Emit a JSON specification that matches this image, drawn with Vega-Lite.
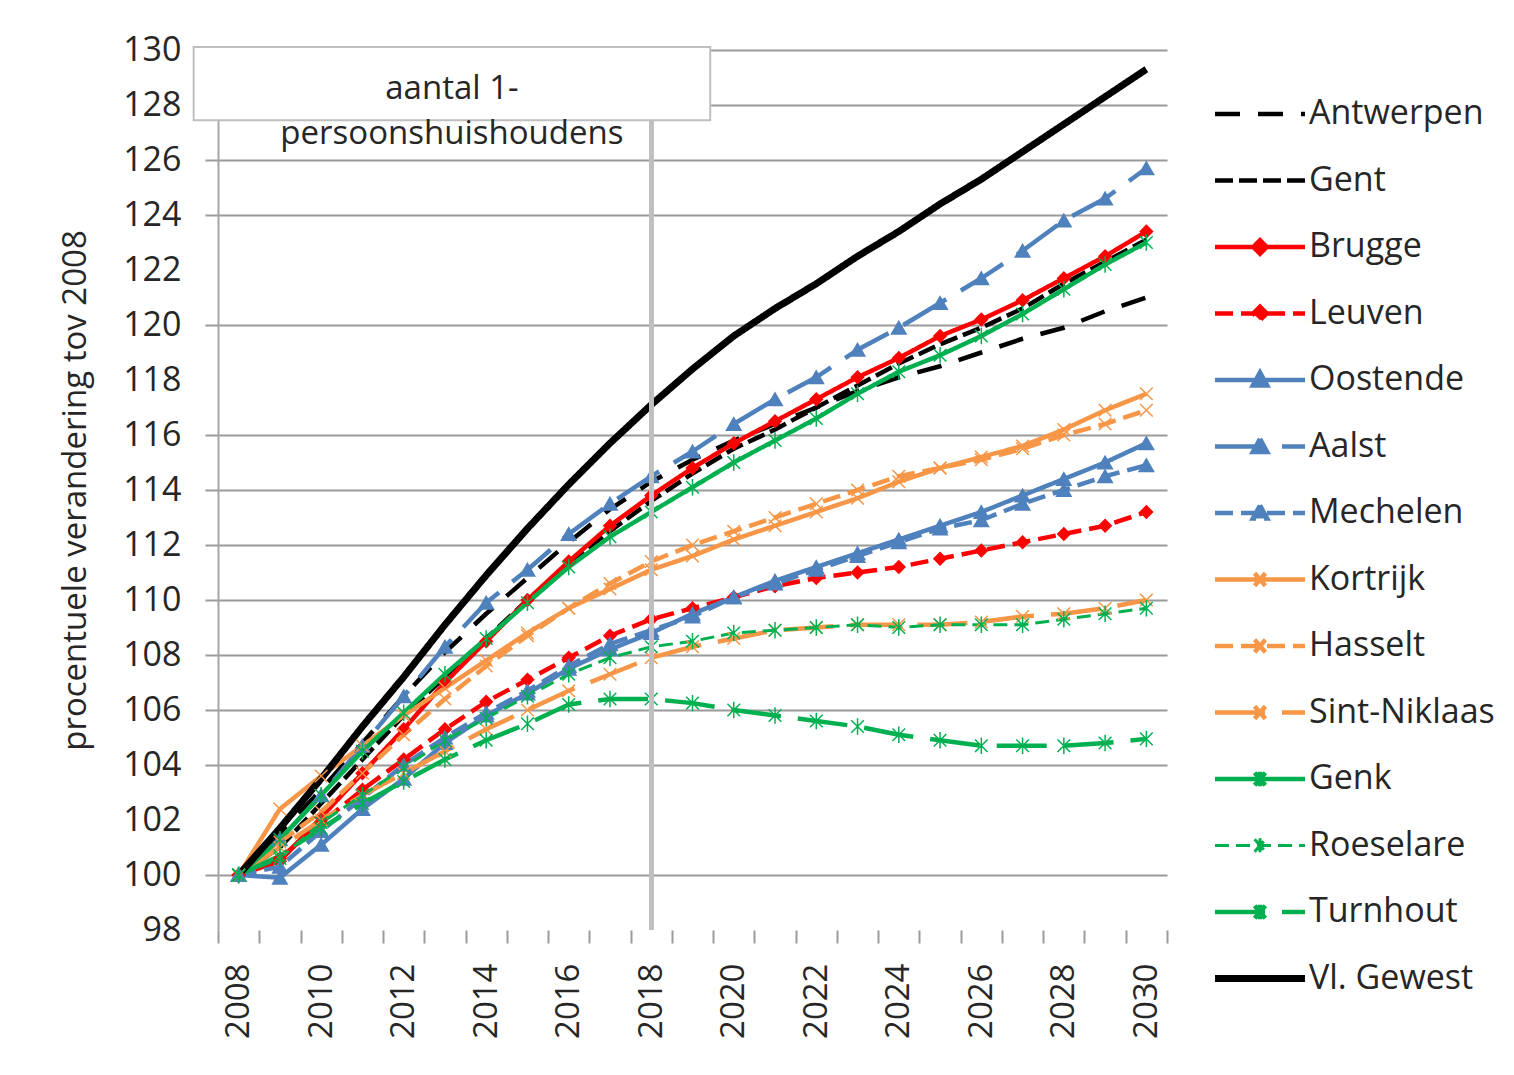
{
"$schema": "https://vega.github.io/schema/vega-lite/v6.json",
"width": 949,
"height": 880,
"autosize": "none",
"padding": {"left": 218, "top": 50, "right": 347, "bottom": 145},
"background": "white",
"config": {"font": "Open Sans", "view": {"stroke": null}},
"datasets": {
"pts": [
{"city":"Antwerpen","year":2008,"value":100},{"city":"Antwerpen","year":2009,"value":101.5},{"city":"Antwerpen","year":2010,"value":103.1},{"city":"Antwerpen","year":2011,"value":104.8},{"city":"Antwerpen","year":2012,"value":106.5},{"city":"Antwerpen","year":2013,"value":108.1},{"city":"Antwerpen","year":2014,"value":109.5},{"city":"Antwerpen","year":2015,"value":110.8},{"city":"Antwerpen","year":2016,"value":112.1},{"city":"Antwerpen","year":2017,"value":113.3},{"city":"Antwerpen","year":2018,"value":114.3},{"city":"Antwerpen","year":2019,"value":115.1},{"city":"Antwerpen","year":2020,"value":115.8},{"city":"Antwerpen","year":2021,"value":116.4},{"city":"Antwerpen","year":2022,"value":117.0},{"city":"Antwerpen","year":2023,"value":117.6},{"city":"Antwerpen","year":2024,"value":118.1},{"city":"Antwerpen","year":2025,"value":118.5},{"city":"Antwerpen","year":2026,"value":119.0},{"city":"Antwerpen","year":2027,"value":119.5},{"city":"Antwerpen","year":2028,"value":119.9},{"city":"Antwerpen","year":2029,"value":120.5},{"city":"Antwerpen","year":2030,"value":121.0},
{"city":"Gent","year":2008,"value":100},{"city":"Gent","year":2009,"value":101.0},{"city":"Gent","year":2010,"value":102.6},{"city":"Gent","year":2011,"value":104.2},{"city":"Gent","year":2012,"value":105.8},{"city":"Gent","year":2013,"value":107.2},{"city":"Gent","year":2014,"value":108.6},{"city":"Gent","year":2015,"value":110.0},{"city":"Gent","year":2016,"value":111.3},{"city":"Gent","year":2017,"value":112.5},{"city":"Gent","year":2018,"value":113.6},{"city":"Gent","year":2019,"value":114.6},{"city":"Gent","year":2020,"value":115.5},{"city":"Gent","year":2021,"value":116.2},{"city":"Gent","year":2022,"value":117.0},{"city":"Gent","year":2023,"value":117.8},{"city":"Gent","year":2024,"value":118.6},{"city":"Gent","year":2025,"value":119.3},{"city":"Gent","year":2026,"value":119.9},{"city":"Gent","year":2027,"value":120.6},{"city":"Gent","year":2028,"value":121.5},{"city":"Gent","year":2029,"value":122.3},{"city":"Gent","year":2030,"value":123.1},
{"city":"Brugge","year":2008,"value":100},{"city":"Brugge","year":2009,"value":100.5},{"city":"Brugge","year":2010,"value":102.1},{"city":"Brugge","year":2011,"value":103.7},{"city":"Brugge","year":2012,"value":105.3},{"city":"Brugge","year":2013,"value":107.0},{"city":"Brugge","year":2014,"value":108.5},{"city":"Brugge","year":2015,"value":110.0},{"city":"Brugge","year":2016,"value":111.4},{"city":"Brugge","year":2017,"value":112.7},{"city":"Brugge","year":2018,"value":113.8},{"city":"Brugge","year":2019,"value":114.8},{"city":"Brugge","year":2020,"value":115.7},{"city":"Brugge","year":2021,"value":116.5},{"city":"Brugge","year":2022,"value":117.3},{"city":"Brugge","year":2023,"value":118.1},{"city":"Brugge","year":2024,"value":118.8},{"city":"Brugge","year":2025,"value":119.6},{"city":"Brugge","year":2026,"value":120.2},{"city":"Brugge","year":2027,"value":120.9},{"city":"Brugge","year":2028,"value":121.7},{"city":"Brugge","year":2029,"value":122.5},{"city":"Brugge","year":2030,"value":123.4},
{"city":"Leuven","year":2008,"value":100},{"city":"Leuven","year":2009,"value":100.6},{"city":"Leuven","year":2010,"value":101.9},{"city":"Leuven","year":2011,"value":103.1},{"city":"Leuven","year":2012,"value":104.2},{"city":"Leuven","year":2013,"value":105.3},{"city":"Leuven","year":2014,"value":106.3},{"city":"Leuven","year":2015,"value":107.1},{"city":"Leuven","year":2016,"value":107.9},{"city":"Leuven","year":2017,"value":108.7},{"city":"Leuven","year":2018,"value":109.3},{"city":"Leuven","year":2019,"value":109.7},{"city":"Leuven","year":2020,"value":110.1},{"city":"Leuven","year":2021,"value":110.5},{"city":"Leuven","year":2022,"value":110.8},{"city":"Leuven","year":2023,"value":111.0},{"city":"Leuven","year":2024,"value":111.2},{"city":"Leuven","year":2025,"value":111.5},{"city":"Leuven","year":2026,"value":111.8},{"city":"Leuven","year":2027,"value":112.1},{"city":"Leuven","year":2028,"value":112.4},{"city":"Leuven","year":2029,"value":112.7},{"city":"Leuven","year":2030,"value":113.2},
{"city":"Oostende","year":2008,"value":100},{"city":"Oostende","year":2009,"value":99.9},{"city":"Oostende","year":2010,"value":101.1},{"city":"Oostende","year":2011,"value":102.4},{"city":"Oostende","year":2012,"value":103.5},{"city":"Oostende","year":2013,"value":104.8},{"city":"Oostende","year":2014,"value":105.8},{"city":"Oostende","year":2015,"value":106.6},{"city":"Oostende","year":2016,"value":107.5},{"city":"Oostende","year":2017,"value":108.2},{"city":"Oostende","year":2018,"value":108.8},{"city":"Oostende","year":2019,"value":109.5},{"city":"Oostende","year":2020,"value":110.1},{"city":"Oostende","year":2021,"value":110.7},{"city":"Oostende","year":2022,"value":111.2},{"city":"Oostende","year":2023,"value":111.7},{"city":"Oostende","year":2024,"value":112.2},{"city":"Oostende","year":2025,"value":112.7},{"city":"Oostende","year":2026,"value":113.2},{"city":"Oostende","year":2027,"value":113.8},{"city":"Oostende","year":2028,"value":114.4},{"city":"Oostende","year":2029,"value":115.0},{"city":"Oostende","year":2030,"value":115.7},
{"city":"Aalst","year":2008,"value":100},{"city":"Aalst","year":2009,"value":101.3},{"city":"Aalst","year":2010,"value":102.9},{"city":"Aalst","year":2011,"value":104.7},{"city":"Aalst","year":2012,"value":106.5},{"city":"Aalst","year":2013,"value":108.3},{"city":"Aalst","year":2014,"value":109.9},{"city":"Aalst","year":2015,"value":111.1},{"city":"Aalst","year":2016,"value":112.4},{"city":"Aalst","year":2017,"value":113.5},{"city":"Aalst","year":2018,"value":114.5},{"city":"Aalst","year":2019,"value":115.4},{"city":"Aalst","year":2020,"value":116.4},{"city":"Aalst","year":2021,"value":117.3},{"city":"Aalst","year":2022,"value":118.1},{"city":"Aalst","year":2023,"value":119.1},{"city":"Aalst","year":2024,"value":119.9},{"city":"Aalst","year":2025,"value":120.8},{"city":"Aalst","year":2026,"value":121.7},{"city":"Aalst","year":2027,"value":122.7},{"city":"Aalst","year":2028,"value":123.8},{"city":"Aalst","year":2029,"value":124.6},{"city":"Aalst","year":2030,"value":125.7},
{"city":"Mechelen","year":2008,"value":100},{"city":"Mechelen","year":2009,"value":100.3},{"city":"Mechelen","year":2010,"value":101.6},{"city":"Mechelen","year":2011,"value":102.8},{"city":"Mechelen","year":2012,"value":104.0},{"city":"Mechelen","year":2013,"value":105.0},{"city":"Mechelen","year":2014,"value":105.9},{"city":"Mechelen","year":2015,"value":106.7},{"city":"Mechelen","year":2016,"value":107.6},{"city":"Mechelen","year":2017,"value":108.4},{"city":"Mechelen","year":2018,"value":108.9},{"city":"Mechelen","year":2019,"value":109.4},{"city":"Mechelen","year":2020,"value":110.1},{"city":"Mechelen","year":2021,"value":110.6},{"city":"Mechelen","year":2022,"value":111.1},{"city":"Mechelen","year":2023,"value":111.6},{"city":"Mechelen","year":2024,"value":112.1},{"city":"Mechelen","year":2025,"value":112.6},{"city":"Mechelen","year":2026,"value":112.9},{"city":"Mechelen","year":2027,"value":113.5},{"city":"Mechelen","year":2028,"value":114.0},{"city":"Mechelen","year":2029,"value":114.5},{"city":"Mechelen","year":2030,"value":114.9},
{"city":"Kortrijk","year":2008,"value":100},{"city":"Kortrijk","year":2009,"value":102.4},{"city":"Kortrijk","year":2010,"value":103.6},{"city":"Kortrijk","year":2011,"value":104.7},{"city":"Kortrijk","year":2012,"value":105.8},{"city":"Kortrijk","year":2013,"value":106.8},{"city":"Kortrijk","year":2014,"value":107.8},{"city":"Kortrijk","year":2015,"value":108.8},{"city":"Kortrijk","year":2016,"value":109.7},{"city":"Kortrijk","year":2017,"value":110.4},{"city":"Kortrijk","year":2018,"value":111.1},{"city":"Kortrijk","year":2019,"value":111.6},{"city":"Kortrijk","year":2020,"value":112.2},{"city":"Kortrijk","year":2021,"value":112.7},{"city":"Kortrijk","year":2022,"value":113.2},{"city":"Kortrijk","year":2023,"value":113.7},{"city":"Kortrijk","year":2024,"value":114.3},{"city":"Kortrijk","year":2025,"value":114.8},{"city":"Kortrijk","year":2026,"value":115.2},{"city":"Kortrijk","year":2027,"value":115.6},{"city":"Kortrijk","year":2028,"value":116.2},{"city":"Kortrijk","year":2029,"value":116.9},{"city":"Kortrijk","year":2030,"value":117.5},
{"city":"Hasselt","year":2008,"value":100},{"city":"Hasselt","year":2009,"value":101.2},{"city":"Hasselt","year":2010,"value":102.3},{"city":"Hasselt","year":2011,"value":103.7},{"city":"Hasselt","year":2012,"value":105.1},{"city":"Hasselt","year":2013,"value":106.4},{"city":"Hasselt","year":2014,"value":107.6},{"city":"Hasselt","year":2015,"value":108.7},{"city":"Hasselt","year":2016,"value":109.7},{"city":"Hasselt","year":2017,"value":110.6},{"city":"Hasselt","year":2018,"value":111.4},{"city":"Hasselt","year":2019,"value":112.0},{"city":"Hasselt","year":2020,"value":112.5},{"city":"Hasselt","year":2021,"value":113.0},{"city":"Hasselt","year":2022,"value":113.5},{"city":"Hasselt","year":2023,"value":114.0},{"city":"Hasselt","year":2024,"value":114.5},{"city":"Hasselt","year":2025,"value":114.8},{"city":"Hasselt","year":2026,"value":115.1},{"city":"Hasselt","year":2027,"value":115.5},{"city":"Hasselt","year":2028,"value":116.0},{"city":"Hasselt","year":2029,"value":116.4},{"city":"Hasselt","year":2030,"value":116.9},
{"city":"Sint-Niklaas","year":2008,"value":100},{"city":"Sint-Niklaas","year":2009,"value":101.0},{"city":"Sint-Niklaas","year":2010,"value":102.0},{"city":"Sint-Niklaas","year":2011,"value":102.9},{"city":"Sint-Niklaas","year":2012,"value":103.7},{"city":"Sint-Niklaas","year":2013,"value":104.5},{"city":"Sint-Niklaas","year":2014,"value":105.3},{"city":"Sint-Niklaas","year":2015,"value":106.0},{"city":"Sint-Niklaas","year":2016,"value":106.7},{"city":"Sint-Niklaas","year":2017,"value":107.3},{"city":"Sint-Niklaas","year":2018,"value":107.9},{"city":"Sint-Niklaas","year":2019,"value":108.3},{"city":"Sint-Niklaas","year":2020,"value":108.6},{"city":"Sint-Niklaas","year":2021,"value":108.9},{"city":"Sint-Niklaas","year":2022,"value":109.0},{"city":"Sint-Niklaas","year":2023,"value":109.1},{"city":"Sint-Niklaas","year":2024,"value":109.1},{"city":"Sint-Niklaas","year":2025,"value":109.1},{"city":"Sint-Niklaas","year":2026,"value":109.2},{"city":"Sint-Niklaas","year":2027,"value":109.4},{"city":"Sint-Niklaas","year":2028,"value":109.5},{"city":"Sint-Niklaas","year":2029,"value":109.7},{"city":"Sint-Niklaas","year":2030,"value":110.0},
{"city":"Genk","year":2008,"value":100},{"city":"Genk","year":2009,"value":101.3},{"city":"Genk","year":2010,"value":102.9},{"city":"Genk","year":2011,"value":104.5},{"city":"Genk","year":2012,"value":105.9},{"city":"Genk","year":2013,"value":107.3},{"city":"Genk","year":2014,"value":108.6},{"city":"Genk","year":2015,"value":109.9},{"city":"Genk","year":2016,"value":111.2},{"city":"Genk","year":2017,"value":112.3},{"city":"Genk","year":2018,"value":113.2},{"city":"Genk","year":2019,"value":114.1},{"city":"Genk","year":2020,"value":115.0},{"city":"Genk","year":2021,"value":115.8},{"city":"Genk","year":2022,"value":116.6},{"city":"Genk","year":2023,"value":117.5},{"city":"Genk","year":2024,"value":118.3},{"city":"Genk","year":2025,"value":118.9},{"city":"Genk","year":2026,"value":119.6},{"city":"Genk","year":2027,"value":120.4},{"city":"Genk","year":2028,"value":121.3},{"city":"Genk","year":2029,"value":122.2},{"city":"Genk","year":2030,"value":123.0},
{"city":"Roeselare","year":2008,"value":100},{"city":"Roeselare","year":2009,"value":100.6},{"city":"Roeselare","year":2010,"value":101.9},{"city":"Roeselare","year":2011,"value":102.9},{"city":"Roeselare","year":2012,"value":103.9},{"city":"Roeselare","year":2013,"value":104.9},{"city":"Roeselare","year":2014,"value":105.7},{"city":"Roeselare","year":2015,"value":106.5},{"city":"Roeselare","year":2016,"value":107.3},{"city":"Roeselare","year":2017,"value":107.9},{"city":"Roeselare","year":2018,"value":108.3},{"city":"Roeselare","year":2019,"value":108.5},{"city":"Roeselare","year":2020,"value":108.8},{"city":"Roeselare","year":2021,"value":108.9},{"city":"Roeselare","year":2022,"value":109.0},{"city":"Roeselare","year":2023,"value":109.1},{"city":"Roeselare","year":2024,"value":109.0},{"city":"Roeselare","year":2025,"value":109.1},{"city":"Roeselare","year":2026,"value":109.1},{"city":"Roeselare","year":2027,"value":109.1},{"city":"Roeselare","year":2028,"value":109.3},{"city":"Roeselare","year":2029,"value":109.5},{"city":"Roeselare","year":2030,"value":109.7},
{"city":"Turnhout","year":2008,"value":100},{"city":"Turnhout","year":2009,"value":100.7},{"city":"Turnhout","year":2010,"value":101.7},{"city":"Turnhout","year":2011,"value":102.6},{"city":"Turnhout","year":2012,"value":103.4},{"city":"Turnhout","year":2013,"value":104.2},{"city":"Turnhout","year":2014,"value":104.9},{"city":"Turnhout","year":2015,"value":105.5},{"city":"Turnhout","year":2016,"value":106.2},{"city":"Turnhout","year":2017,"value":106.4},{"city":"Turnhout","year":2018,"value":106.4},{"city":"Turnhout","year":2019,"value":106.25},{"city":"Turnhout","year":2020,"value":106.0},{"city":"Turnhout","year":2021,"value":105.8},{"city":"Turnhout","year":2022,"value":105.6},{"city":"Turnhout","year":2023,"value":105.4},{"city":"Turnhout","year":2024,"value":105.1},{"city":"Turnhout","year":2025,"value":104.9},{"city":"Turnhout","year":2026,"value":104.7},{"city":"Turnhout","year":2027,"value":104.7},{"city":"Turnhout","year":2028,"value":104.7},{"city":"Turnhout","year":2029,"value":104.8},{"city":"Turnhout","year":2030,"value":104.95},
{"city":"Vl. Gewest","year":2008,"value":100},{"city":"Vl. Gewest","year":2009,"value":101.7},{"city":"Vl. Gewest","year":2010,"value":103.5},{"city":"Vl. Gewest","year":2011,"value":105.4},{"city":"Vl. Gewest","year":2012,"value":107.2},{"city":"Vl. Gewest","year":2013,"value":109.1},{"city":"Vl. Gewest","year":2014,"value":110.9},{"city":"Vl. Gewest","year":2015,"value":112.6},{"city":"Vl. Gewest","year":2016,"value":114.2},{"city":"Vl. Gewest","year":2017,"value":115.7},{"city":"Vl. Gewest","year":2018,"value":117.1},{"city":"Vl. Gewest","year":2019,"value":118.4},{"city":"Vl. Gewest","year":2020,"value":119.6},{"city":"Vl. Gewest","year":2021,"value":120.6},{"city":"Vl. Gewest","year":2022,"value":121.5},{"city":"Vl. Gewest","year":2023,"value":122.5},{"city":"Vl. Gewest","year":2024,"value":123.4},{"city":"Vl. Gewest","year":2025,"value":124.4},{"city":"Vl. Gewest","year":2026,"value":125.3},{"city":"Vl. Gewest","year":2027,"value":126.3},{"city":"Vl. Gewest","year":2028,"value":127.3},{"city":"Vl. Gewest","year":2029,"value":128.3},{"city":"Vl. Gewest","year":2030,"value":129.3}
]
},
"layer": [
{
"data": {"name": "pts"},
"layer": [
{
"mark": {"type": "line", "strokeCap": "butt", "strokeJoin": "round"},
"encoding": {
"x": {"field": "year", "type": "ordinal", "scale": {"type": "band", "paddingInner": 0, "paddingOuter": 0},
"axis": {"title": null, "labelAngle": -90, "labelExpr": "datum.value % 2 == 0 ? datum.label : ''", "labelFontSize": 33, "labelPadding": 20, "labelColor": "#262626", "labelOverlap": false, "tickBand": "extent", "tickSize": 13, "tickWidth": 2, "tickColor": "#9a9a9a", "domain": false, "grid": false}},
"y": {"field": "value", "type": "quantitative", "scale": {"domain": [98, 130], "nice": false, "zero": false},
"axis": {"title": "procentuele verandering tov 2008", "titleFontSize": 33, "titleFontWeight": "normal", "titleColor": "#262626", "titlePadding": 30,
"values": [98,99,100,101,102,103,104,105,106,107,108,109,110,111,112,113,114,115,116,117,118,119,120,121,122,123,124,125,126,127,128,129,130],
"labelExpr": "datum.value % 2 == 0 ? datum.label : ''", "labelFontSize": 34, "labelColor": "#262626", "labelPadding": 24, "labelOverlap": false,
"tickSize": 13, "tickWidth": 2, "tickColor": "#9a9a9a",
"tickOpacity": {"condition": {"test": "indexof([98,102,118,122], datum.value) >= 0", "value": 0}, "value": 1},
"grid": true, "gridColor": "#9a9a9a", "gridWidth": 2,
"gridOpacity": {"condition": {"test": "datum.value % 2 == 1 || indexof([98,102,118,122], datum.value) >= 0", "value": 0}, "value": 1},
"domainColor": "#a6a6a6", "domainWidth": 2}},
"color": {"field": "city", "type": "nominal", "title": null,
"scale": {"domain": ["Antwerpen","Gent","Brugge","Leuven","Oostende","Aalst","Mechelen","Kortrijk","Hasselt","Sint-Niklaas","Genk","Roeselare","Turnhout","Vl. Gewest"],
"range": ["#000000","#000000","#FF0000","#FF0000","#4F81BD","#4F81BD","#4F81BD","#F79646","#F79646","#F79646","#00B050","#00B050","#00B050","#000000"]},
"legend": {"title": null, "orient": "none", "legendX": 1025, "legendY": 47, "padding": 0, "labelFontSize": 34, "labelColor": "#262626", "labelLimit": 400, "labelOffset": 32, "symbolSize": 8100, "rowPadding": 32.5, "symbolStrokeWidth": 4.5,
"encode": {"symbols": {"update": {
"shape": {"signal": "indexof(['Brugge','Leuven'], datum.value) >= 0 ? 'M-1,0H1M0,-0.15L0.15,0L0,0.15L-0.15,0Z' : indexof(['Oostende','Aalst','Mechelen'], datum.value) >= 0 ? 'M-1,0H1M0,-0.17L0.16,0.12L-0.16,0.12Z' : indexof(['Kortrijk','Hasselt','Sint-Niklaas'], datum.value) >= 0 ? 'M-1,0H1M-0.12,-0.14L0.12,0.14M-0.12,0.14L0.12,-0.14' : indexof(['Genk','Roeselare','Turnhout'], datum.value) >= 0 ? 'M-1,0H1M-0.12,-0.14L0.12,0.14M-0.12,0.14L0.12,-0.14M0,-0.16V0.16' : 'M-1,0H1'"},
"fill": {"signal": "scale('color', datum.value)"},
"strokeWidth": {"signal": "datum.value == 'Vl. Gewest' ? 7 : datum.value == 'Roeselare' ? 3 : 4.5"}
}}}}},
"strokeDash": {"field": "city", "type": "nominal", "title": null,
"scale": {"domain": ["Antwerpen","Gent","Brugge","Leuven","Oostende","Aalst","Mechelen","Kortrijk","Hasselt","Sint-Niklaas","Genk","Roeselare","Turnhout","Vl. Gewest"],
"range": [[25,18],[18,6],[1,0],[18,8],[1,0],[50,17],[18,8],[1,0],[18,8],[50,17],[1,0],[14,7],[50,17],[1,0]]}},
"strokeWidth": {"condition": [{"test": "datum.city == 'Vl. Gewest'", "value": 7}, {"test": "datum.city == 'Roeselare'", "value": 3}], "value": 4.5}
}
},
{
"transform": [{"filter": "indexof(['Antwerpen','Gent','Vl. Gewest'], datum.city) < 0"}],
"mark": {"type": "point", "filled": true, "strokeWidth": 1.5, "opacity": 1},
"encoding": {
"x": {"field": "year", "type": "ordinal"},
"y": {"field": "value", "type": "quantitative"},
"shape": {"field": "city", "type": "nominal", "legend": null,
"scale": {"domain": ["Brugge","Leuven","Oostende","Aalst","Mechelen","Kortrijk","Hasselt","Sint-Niklaas","Genk","Roeselare","Turnhout"],
"range": ["diamond","diamond","triangle-up","triangle-up","triangle-up","M-1,-1L1,1M-1,1L1,-1","M-1,-1L1,1M-1,1L1,-1","M-1,-1L1,1M-1,1L1,-1","M-1,-1L1,1M-1,1L1,-1M0,-1.3L0,1.3","M-1,-1L1,1M-1,1L1,-1M0,-1.3L0,1.3","M-1,-1L1,1M-1,1L1,-1M0,-1.3L0,1.3"]}},
"fill": {"field": "city", "type": "nominal", "legend": null,
"scale": {"domain": ["Brugge","Leuven","Oostende","Aalst","Mechelen","Kortrijk","Hasselt","Sint-Niklaas","Genk","Roeselare","Turnhout"],
"range": ["#FF0000","#FF0000","#4F81BD","#4F81BD","#4F81BD","#F79646","#F79646","#F79646","#00B050","#00B050","#00B050"]}},
"stroke": {"field": "city", "type": "nominal", "legend": null,
"scale": {"domain": ["Brugge","Leuven","Oostende","Aalst","Mechelen","Kortrijk","Hasselt","Sint-Niklaas","Genk","Roeselare","Turnhout"],
"range": ["#FF0000","#FF0000","#4F81BD","#4F81BD","#4F81BD","#F79646","#F79646","#F79646","#00B050","#00B050","#00B050"]}},
"size": {"condition": [{"test": "indexof(['Brugge','Leuven'], datum.city) >= 0", "value": 150}, {"test": "indexof(['Oostende','Aalst','Mechelen'], datum.city) >= 0", "value": 210}], "value": 160}
}
},
{
"mark": {"type": "rule", "color": "#bfbfbf", "strokeWidth": 4},
"encoding": {"x": {"datum": 2018, "type": "ordinal"}}
}
]
},
{
"data": {"values": [{}]},
"layer": [
{
"mark": {"type": "rect", "fill": "white", "stroke": "#bfbfbf", "strokeWidth": 2},
"encoding": {
"x": {"datum": 2006.91, "type": "quantitative", "scale": {"domain": [2007.5, 2030.5], "nice": false, "zero": false}, "axis": null},
"x2": {"datum": 2019.43},
"y": {"datum": 130.11, "type": "quantitative"},
"y2": {"datum": 127.45}
}
},
{
"mark": {"type": "text", "fontSize": 33, "lineHeight": 45, "color": "#262626", "align": "center", "baseline": "middle"},
"encoding": {
"x": {"datum": 2013.17, "type": "quantitative", "scale": {"domain": [2007.5, 2030.5], "nice": false, "zero": false}, "axis": null},
"y": {"datum": 128.57, "type": "quantitative"},
"text": {"value": ["aantal 1-", "persoonshuishoudens"]}
}
}
]
}
],
"resolve": {"scale": {"x": "independent"}}
}
